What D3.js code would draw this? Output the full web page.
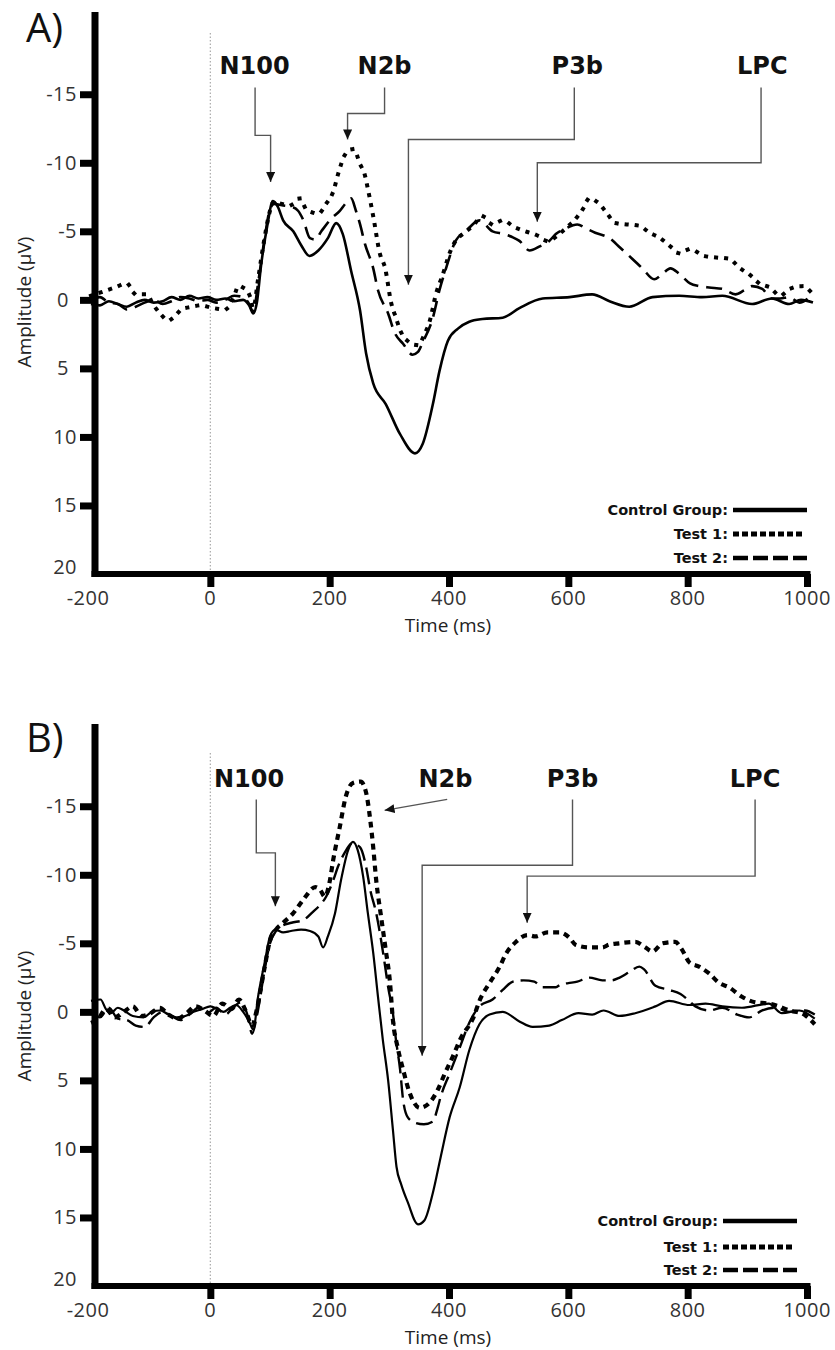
<!DOCTYPE html>
<html>
<head>
<meta charset="utf-8">
<style>
  body { margin: 0; background: #fff; }
  .tick-label { font-family: "Open Sans", sans-serif; font-size: 20px; fill: #333; letter-spacing: 0.5px; }
  .axis-title { font-family: "Open Sans", sans-serif; font-size: 19px; fill: #222; }
  .panel-label { font-family: "Open Sans", sans-serif; font-size: 40px; fill: #111; }
  .comp-label { font-family: "DejaVu Sans", sans-serif; font-weight: bold; font-size: 24px; fill: #111; }
  .legend-label { font-family: "DejaVu Sans", sans-serif; font-weight: bold; font-size: 14.5px; fill: #111; }
  .erp { fill: none; stroke: #000; stroke-linejoin: round; }
  .pointer { fill: none; stroke: #555; stroke-width: 1.4; }
</style>
</head>
<body>
<script src="https://cdn.jsdelivr.net/npm/d3@7"></script>
<script>

// ---- data: [time (ms), amplitude (µV)], negative is drawn up ----
var ctrlA = [[-200,0.3],[-185,0.4],[-170,0.1],[-155,0.3],[-140,0.5],[-125,0.2],[-110,0.0],[-95,0.2],[-80,0.1],[-65,-0.2],[-50,0.0],[-35,-0.3],[-20,-0.1],[-5,-0.2],[10,0.0],[25,-0.1],[40,0.1],[55,0.0],[65,0.4],[72,1.0],[78,0.2],[85,-2.5],[95,-5.3],[105,-7.2],[113,-6.8],[122,-5.8],[139,-5.0],[152,-4.0],[166,-3.2],[181,-3.6],[197,-4.5],[211,-5.6],[222,-4.8],[236,-2.1],[251,0.8],[261,3.9],[273,6.1],[294,7.6],[318,9.8],[343,11.2],[356,10.5],[373,7.6],[384,5.2],[398,3.0],[415,2.1],[434,1.6],[456,1.4],[490,1.3],[518,0.6],[557,-0.1],[602,-0.2],[640,-0.4],[669,0.1],[702,0.5],[741,-0.2],[786,-0.3],[824,-0.2],[858,-0.3],[908,0.3],[941,-0.1],[970,0.3],[990,0.0],[1010,0.2]];

var test1A = [[-200,-0.3],[-180,-0.6],[-160,-0.9],[-140,-1.2],[-125,-0.4],[-107,-0.4],[-95,0.4],[-84,1.0],[-70,1.5],[-62,1.3],[-48,0.7],[-30,0.5],[-17,0.4],[5,0.6],[25,0.7],[40,-0.3],[47,-1.0],[58,-0.8],[66,-0.3],[72,0.6],[80,-1.5],[90,-4.3],[100,-6.5],[107,-7.2],[120,-7.0],[134,-6.9],[150,-7.4],[161,-6.6],[181,-6.3],[194,-7.0],[206,-7.9],[215,-9.3],[226,-10.6],[240,-11.0],[251,-9.9],[259,-9.1],[264,-8.1],[273,-6.1],[284,-3.4],[293,-2.3],[303,0.2],[311,1.3],[319,2.3],[334,3.1],[348,3.3],[359,2.5],[368,1.5],[378,-0.4],[390,-1.9],[401,-3.4],[411,-4.3],[423,-4.8],[440,-5.4],[456,-6.1],[473,-5.5],[490,-5.8],[510,-5.3],[528,-5.0],[548,-4.7],[565,-4.3],[582,-4.7],[595,-5.2],[612,-5.9],[624,-6.6],[635,-7.4],[652,-7.0],[665,-6.3],[679,-5.6],[699,-5.5],[719,-5.4],[736,-4.9],[754,-4.5],[771,-3.9],[786,-3.4],[804,-3.7],[828,-3.2],[846,-3.1],[869,-3.0],[888,-2.3],[905,-1.8],[920,-1.2],[938,-0.9],[955,-0.3],[971,-0.8],[992,-1.0],[1010,-0.4]];

var test2A = [[-200,0.0],[-185,-0.2],[-170,0.2],[-155,0.3],[-140,0.7],[-125,0.5],[-110,0.2],[-95,0.0],[-80,0.3],[-65,0.1],[-50,-0.2],[-35,-0.1],[-20,0.1],[-5,0.0],[10,0.2],[25,0.0],[40,-0.3],[55,-0.2],[65,0.3],[72,0.9],[80,-1.2],[90,-4.2],[100,-6.6],[107,-7.0],[120,-6.9],[135,-6.8],[147,-6.5],[156,-5.8],[167,-4.5],[176,-4.4],[186,-5.0],[202,-5.9],[217,-6.5],[228,-7.1],[236,-7.4],[244,-6.5],[251,-5.5],[259,-4.1],[273,-2.3],[281,-0.7],[298,1.0],[309,2.4],[323,3.2],[339,4.0],[348,3.8],[356,3.1],[373,1.3],[384,-0.7],[395,-2.3],[411,-4.3],[428,-5.0],[451,-5.8],[473,-5.0],[493,-4.8],[505,-4.6],[518,-4.3],[535,-3.6],[552,-3.9],[568,-4.3],[579,-4.8],[595,-5.2],[615,-5.5],[630,-5.2],[645,-4.9],[669,-4.5],[687,-3.8],[707,-3.0],[724,-2.3],[744,-1.5],[758,-1.9],[771,-2.3],[786,-1.9],[804,-1.2],[820,-1.0],[836,-0.9],[858,-0.8],[880,-0.4],[895,-0.7],[908,-1.0],[925,-0.8],[941,-0.1],[955,-0.1],[970,-0.2],[987,0.2],[1005,-0.2]];

var ctrlB = [[-200,-0.8],[-184,-0.9],[-175,-0.2],[-167,0.1],[-155,-0.3],[-145,-0.1],[-130,0.3],[-112,0.4],[-98,0.0],[-84,-0.1],[-70,0.2],[-57,0.4],[-42,0.3],[-28,0.0],[-14,-0.2],[0,-0.4],[12,-0.2],[22,0.0],[33,-0.3],[43,-0.5],[55,0.0],[65,0.7],[72,1.3],[80,-1.1],[92,-3.8],[100,-5.5],[109,-6.0],[122,-5.8],[135,-5.9],[152,-6.0],[167,-5.9],[181,-5.5],[189,-4.7],[197,-5.5],[209,-7.2],[219,-9.6],[231,-11.8],[239,-12.4],[247,-11.8],[256,-9.9],[264,-7.2],[273,-4.3],[281,-1.1],[289,2.0],[298,5.0],[306,8.6],[312,11.3],[320,12.6],[331,13.9],[348,15.5],[359,15.2],[373,13.2],[386,10.6],[401,7.7],[418,5.5],[434,2.8],[451,0.9],[468,0.2],[490,0.0],[518,0.7],[540,1.1],[568,1.0],[589,0.6],[617,0.1],[640,0.2],[659,-0.1],[686,0.3],[712,0.1],[746,-0.4],[769,-0.8],[803,-0.5],[830,-0.6],[858,-0.4],[891,-0.3],[936,-0.6],[958,0.1],[987,-0.1],[1013,0.5]];

var test1B = [[-200,0.8],[-188,0.5],[-175,-0.2],[-160,0.4],[-145,0.0],[-130,-0.4],[-115,0.3],[-100,0.1],[-85,-0.3],[-70,0.2],[-55,0.5],[-40,0.1],[-25,-0.4],[-10,-0.1],[5,0.3],[20,-0.6],[35,-0.2],[48,-0.9],[60,0.0],[70,1.0],[78,-0.2],[90,-3.0],[100,-5.2],[110,-6.0],[122,-6.5],[139,-7.2],[156,-8.2],[176,-9.1],[184,-8.9],[192,-8.4],[200,-9.5],[206,-11.1],[217,-13.5],[227,-15.7],[239,-16.7],[252,-16.8],[261,-16.0],[268,-14.0],[273,-12.0],[278,-9.6],[286,-7.0],[294,-4.5],[301,-2.2],[306,0.6],[314,2.6],[323,4.2],[334,5.9],[351,7.0],[368,6.6],[381,5.7],[393,4.5],[406,3.3],[420,1.9],[440,0.5],[453,-1.0],[468,-2.1],[485,-3.3],[495,-4.2],[512,-5.1],[532,-5.6],[545,-5.5],[565,-5.8],[585,-5.8],[602,-5.4],[612,-4.9],[635,-4.7],[657,-4.7],[668,-4.9],[685,-5.0],[712,-5.1],[729,-4.7],[741,-4.4],[758,-5.0],[779,-5.1],[791,-4.5],[803,-3.6],[819,-3.3],[836,-2.8],[853,-2.1],[869,-1.8],[891,-1.1],[913,-0.7],[936,-0.6],[953,-0.4],[970,-0.1],[991,0.1],[1013,0.9]];

var test2B = [[-200,0.0],[-185,0.4],[-170,-0.3],[-155,0.5],[-140,0.6],[-125,1.0],[-110,1.1],[-95,0.4],[-80,0.0],[-65,0.3],[-50,0.6],[-35,0.2],[-20,-0.3],[-5,0.1],[10,-0.3],[25,0.2],[40,-0.4],[52,-0.7],[62,0.2],[70,1.6],[78,0.3],[90,-2.8],[100,-5.0],[110,-5.9],[117,-6.2],[136,-6.5],[156,-6.7],[172,-7.3],[184,-7.8],[194,-8.4],[206,-9.6],[214,-10.6],[225,-11.6],[238,-12.3],[251,-12.0],[261,-10.6],[268,-8.9],[278,-7.2],[284,-5.8],[293,-3.3],[298,-1.8],[306,0.1],[311,2.0],[318,4.2],[323,6.4],[331,7.7],[344,8.1],[358,8.2],[373,8.0],[381,7.0],[386,6.2],[401,4.5],[418,2.6],[434,0.8],[451,-0.4],[473,-0.9],[490,-1.6],[507,-2.2],[525,-2.3],[543,-2.2],[557,-1.8],[579,-1.8],[587,-2.0],[600,-2.1],[615,-2.2],[635,-2.5],[657,-2.3],[672,-2.3],[686,-2.5],[702,-2.9],[719,-3.3],[727,-3.1],[746,-1.9],[769,-1.6],[788,-1.3],[800,-0.9],[813,-0.4],[836,-0.1],[858,-0.3],[883,0.2],[903,0.4],[925,-0.1],[947,-0.3],[970,0.0],[997,-0.1],[1013,0.2]];

var xTicks = [-200, 0, 200, 400, 600, 800, 1000];
var yTicks = [-15, -10, -5, 0, 5, 10, 15, 20];
var groups = ["Control Group:", "Test 1:", "Test 2:"];

// component annotations: label position and pointer path, in (ms, µV)
var notesA = [
  {label: "N100", at: [74, -16.5],  path: [[75,-15.5],[75,-12.0],[101,-12.0],[101,-8.6]]},
  {label: "N2b",  at: [292, -16.5], path: [[292,-15.5],[292,-13.6],[230,-13.6],[230,-11.7]]},
  {label: "P3b",  at: [615, -16.5], path: [[610,-15.5],[610,-11.7],[332,-11.7],[332,-1.1]]},
  {label: "LPC",  at: [925, -16.5], path: [[923,-15.5],[923,-10.0],[548,-10.0],[548,-5.7]]}
];
var notesB = [
  {label: "N100", at: [65, -16.4],  path: [[77,-15.5],[77,-11.6],[109,-11.6],[109,-7.7]]},
  {label: "N2b",  at: [394, -16.4], path: [[397,-15.5],[292,-14.7]]},
  {label: "P3b",  at: [607, -16.4], path: [[607,-15.5],[607,-10.7],[355,-10.7],[355,3.2]]},
  {label: "LPC",  at: [913, -16.4], path: [[913,-15.5],[913,-9.9],[531,-9.9],[531,-6.5]]}
];

var W = 835, H = 1350;

var svg = d3.select("body").append("svg")
    .attr("width", W)
    .attr("height", H)
    .style("background", "#fff");

svg.append("defs").append("marker")
    .attr("id", "tip")
    .attr("markerUnits", "userSpaceOnUse")
    .attr("markerWidth", 10).attr("markerHeight", 9)
    .attr("refX", 10).attr("refY", 4.5)
    .attr("orient", "auto")
  .append("path")
    .attr("d", "M0,0 L10,4.5 L0,9 Z")
    .attr("fill", "#111");

var x = d3.scaleLinear().domain([-200, 1000]).range([91, 807]);

function drawPanel(p) {
  var y = d3.scaleLinear().domain([-21, 20]).range([p.top, p.bottom]);
  var g = svg.append("g");
  var axisX = 95;

  // dotted stimulus-onset line
  g.append("line")
      .attr("x1", x(0)).attr("x2", x(0))
      .attr("y1", p.onsetTop).attr("y2", p.bottom)
      .attr("stroke", "#aaa").attr("stroke-width", 1.2)
      .attr("stroke-dasharray", "1.5 2");

  // the waveforms
  var line = d3.line()
      .x(function(d) { return x(d[0]); })
      .y(function(d) { return y(d[1]); })
      .curve(d3.curveMonotoneX);

  p.series.slice().reverse().forEach(function(s, i) {
    var st = p.styles[p.series.length - 1 - i];
    g.append("path")
        .datum(s)
        .attr("class", "erp")
        .attr("d", line)
        .attr("stroke-width", st.w)
        .attr("stroke-dasharray", st.dash)
        .attr("stroke-linecap", st.cap || "butt");
  });

  // y axis: thick line with block ticks
  var ya = g.append("g")
      .attr("transform", "translate(" + axisX + ",0)")
      .call(d3.axisLeft(y).tickValues(yTicks.slice(0, -1)).tickSize(15).tickSizeOuter(0).tickFormat(""));
  ya.select(".domain").remove();
  ya.selectAll(".tick line").attr("stroke", "#000").attr("stroke-width", 7);
  g.append("line")
      .attr("x1", axisX).attr("x2", axisX)
      .attr("y1", p.top).attr("y2", p.bottom + 3)
      .attr("stroke", "#000").attr("stroke-width", 7);

  // x axis
  var xa = g.append("g")
      .attr("transform", "translate(0," + p.bottom + ")")
      .call(d3.axisBottom(x).tickValues(xTicks.slice(1)).tickSize(13).tickSizeOuter(0).tickFormat(""));
  xa.select(".domain").remove();
  xa.selectAll(".tick line").attr("stroke", "#000").attr("stroke-width", 7);
  g.append("line")
      .attr("x1", axisX - 3.5).attr("x2", x(1000) + 3.5)
      .attr("y1", p.bottom).attr("y2", p.bottom)
      .attr("stroke", "#000").attr("stroke-width", 6);

  // tick labels
  g.selectAll(".ylab")
    .data(yTicks)
    .enter().append("text")
      .attr("class", "tick-label")
      .attr("text-anchor", "end")
      .attr("x", function(d) { return String(d).length === 1 ? 69 : 77; })
      .attr("y", function(d) { return d === 20 ? y(d) : y(d) + 7; })
      .text(function(d) { return d; });

  g.selectAll(".xlab")
    .data(xTicks)
    .enter().append("text")
      .attr("class", "tick-label")
      .attr("text-anchor", "middle")
      .attr("x", function(d) { return d === -200 ? x(d) - 3 : x(d); })
      .attr("y", p.bottom + 31)
      .text(function(d) { return d; });

  g.append("text")
      .attr("class", "axis-title")
      .attr("text-anchor", "middle")
      .attr("x", 448).attr("y", p.bottom + 58)
      .text("Time (ms)");

  g.append("text")
      .attr("class", "axis-title")
      .attr("text-anchor", "middle")
      .attr("transform", "translate(31," + p.ylabelY + ") rotate(-90)")
      .text("Amplitude (µV)");

  g.append("text")
      .attr("class", "panel-label")
      .attr("x", 26).attr("y", p.letterY)
      .text(p.letter);

  // component labels and pointers
  var pl = d3.line()
      .x(function(d) { return x(d[0]); })
      .y(function(d) { return y(d[1]); });

  p.notes.forEach(function(n) {
    g.append("text")
        .attr("class", "comp-label")
        .attr("text-anchor", "middle")
        .attr("x", x(n.at[0])).attr("y", y(n.at[1]))
        .text(n.label);
    g.append("path")
        .attr("class", "pointer")
        .attr("d", pl(n.path))
        .attr("marker-end", "url(#tip)");
  });

  // legend
  var lg = g.append("g");
  groups.forEach(function(name, i) {
    var ly = p.legendY[i];
    var ls = p.legendStyles[i];
    lg.append("text")
        .attr("class", "legend-label")
        .attr("text-anchor", "end")
        .attr("x", p.legendTextX).attr("y", ly + 5)
        .text(name);
    lg.append("line")
        .attr("x1", p.legendTextX + 5).attr("x2", p.legendTextX + 5 + ls.len)
        .attr("y1", ly).attr("y2", ly)
        .attr("stroke", "#000")
        .attr("stroke-width", ls.w)
        .attr("stroke-dasharray", ls.dash);
  });
}

drawPanel({
  letter: "A)", letterY: 42,
  top: 12, bottom: 574, onsetTop: 33, ylabelY: 302,
  series: [ctrlA, test1A, test2A],
  styles: [{w: 2.6, dash: null}, {w: 4, dash: "0.1 10", cap: "square"}, {w: 2.6, dash: "16 8"}],
  notes: notesA,
  legendTextX: 728, legendY: [510, 534, 558],
  legendStyles: [{w: 4.5, dash: null, len: 74}, {w: 5, dash: "6 3", len: 70}, {w: 4.5, dash: "15 5", len: 74}]
});

drawPanel({
  letter: "B)", letterY: 752,
  top: 724, bottom: 1286, onsetTop: 753, ylabelY: 1016,
  series: [ctrlB, test1B, test2B],
  styles: [{w: 2.2, dash: null}, {w: 4.2, dash: "6 5"}, {w: 2.4, dash: "17 7"}],
  notes: notesB,
  legendTextX: 718, legendY: [1221, 1247, 1270],
  legendStyles: [{w: 4.5, dash: null, len: 74}, {w: 5, dash: "6 3", len: 70}, {w: 4.5, dash: "15 5", len: 74}]
});

</script>
</body>
</html>
